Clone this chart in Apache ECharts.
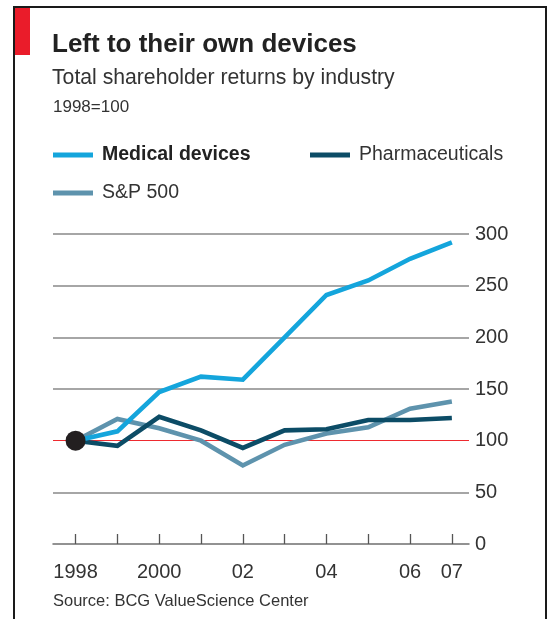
<!DOCTYPE html>
<html>
<head>
<meta charset="utf-8">
<script src="https://cdn.jsdelivr.net/npm/echarts@6/dist/echarts.min.js"></script>
<style>
  html, body { margin: 0; padding: 0; background: #fff; }
  #chart { width: 558px; height: 619px; }
</style>
</head>
<body>
<div id="chart"></div>
<script>
// Total shareholder returns by industry, 1998 = 100
const years = [1998, 1999, 2000, 2001, 2002, 2003, 2004, 2005, 2006, 2007];
const medicalDevices = [100, 109, 147, 162, 159, 200, 241, 255, 276, 292];
const pharmaceuticals = [100, 95, 123, 110, 93, 110, 111, 120, 120, 122];
const sp500 = [100, 121, 112, 100, 76, 96, 107, 113, 131, 138];
const baseValue = 100;
const labelYears = [1998, 2000, 2002, 2004, 2006, 2007];
const labelTexts = ['1998', '2000', '02', '04', '06', '07'];

const FONT = '"Liberation Sans", Arial, sans-serif';
const pairs = vals => years.map((y, i) => [y, vals[i]]);

const chart = echarts.init(document.getElementById('chart'), null, { renderer: 'canvas' });

const legendBase = {
  orient: 'horizontal',
  icon: 'rect',
  itemWidth: 40,
  itemHeight: 5,
  padding: 0,
  selectedMode: false,
  textStyle: { fontFamily: FONT, fontSize: 19.5, color: '#333', padding: [0, 0, 0, 4] }
};

chart.setOption({
  animation: false,
  backgroundColor: '#fff',
  grid: { left: 53, right: 89, top: 234, height: 310 },
  legend: [
    Object.assign({}, legendBase, { left: 53, top: 145, data: ['Medical devices'],
      textStyle: Object.assign({}, legendBase.textStyle, { fontWeight: 'bold', color: '#222' }) }),
    Object.assign({}, legendBase, { left: 310, top: 145, data: ['Pharmaceuticals'] }),
    Object.assign({}, legendBase, { left: 53, top: 183, data: ['S&P 500'] })
  ],
  xAxis: {
    type: 'value',
    min: 1997.46,
    max: 2007.41,
    splitLine: { show: false },
    axisLine: { show: true, lineStyle: { color: '#6f6f6f', width: 1.5 } },
    axisTick: {
      show: true, inside: true, length: 10,
      customValues: years,
      lineStyle: { color: '#555', width: 1.3 }
    },
    axisLabel: {
      customValues: labelYears,
      formatter: v => labelTexts[labelYears.indexOf(Math.round(v))],
      fontFamily: FONT, fontSize: 20, color: '#333', margin: 18
    }
  },
  yAxis: {
    type: 'value',
    position: 'right',
    min: 0, max: 300, interval: 50,
    axisLine: { show: false },
    axisTick: { show: false },
    axisLabel: { fontFamily: FONT, fontSize: 20, color: '#333', margin: 6 },
    splitLine: {
      show: true,
      lineStyle: {
        color: ['transparent', '#a6a6a6', 'transparent', '#a6a6a6', '#a6a6a6', '#a6a6a6', '#a6a6a6'],
        width: 2
      }
    }
  },
  series: [
    {
      name: 'S&P 500', type: 'line', data: pairs(sp500), z: 10,
      symbol: 'none', color: '#5e93ad',
      lineStyle: { width: 4.6, color: '#5e93ad', join: 'miter' },
      markLine: {
        silent: true, symbol: 'none', z: 1,
        label: { show: false },
        lineStyle: { color: '#ee2a2f', width: 1, type: 'solid' },
        data: [{ yAxis: baseValue }]
      }
    },
    {
      name: 'Pharmaceuticals', type: 'line', data: pairs(pharmaceuticals), z: 11,
      symbol: 'none', color: '#0c4c66',
      lineStyle: { width: 4.6, color: '#0c4c66', join: 'miter' }
    },
    {
      name: 'Medical devices', type: 'line', data: pairs(medicalDevices), z: 12,
      symbol: 'none', color: '#14a5dc',
      lineStyle: { width: 4.6, color: '#14a5dc', join: 'miter' }
    },
    {
      name: 'base', type: 'scatter', data: [[years[0], baseValue]], z: 20,
      symbolSize: 20, itemStyle: { color: '#231f20', opacity: 1 }, silent: true
    }
  ],
  graphic: [
    // frame and red tab
    { type: 'rect', shape: { x: 13, y: 6, width: 2, height: 613 }, style: { fill: '#1a1a1a' } },
    { type: 'rect', shape: { x: 13, y: 6, width: 534, height: 2 }, style: { fill: '#1a1a1a' } },
    { type: 'rect', shape: { x: 545, y: 6, width: 2, height: 613 }, style: { fill: '#1a1a1a' } },
    { type: 'rect', shape: { x: 15, y: 8, width: 15, height: 47 }, style: { fill: '#ea1c2a' } },
    // headings
    { type: 'text', x: 52, y: 45, style: { text: 'Left to their own devices', font: 'bold 26px ' + FONT, fill: '#222', verticalAlign: 'middle' } },
    { type: 'text', x: 52, y: 78.5, style: { text: 'Total shareholder returns by industry', font: '21.2px ' + FONT, fill: '#333', verticalAlign: 'middle' } },
    { type: 'text', x: 53, y: 107.5, style: { text: '1998=100', font: '17px ' + FONT, fill: '#333', verticalAlign: 'middle' } },
    { type: 'text', x: 53, y: 601, style: { text: 'Source: BCG ValueScience Center', font: '16.5px ' + FONT, fill: '#333', verticalAlign: 'middle' } }
  ]
});
</script>
</body>
</html>
